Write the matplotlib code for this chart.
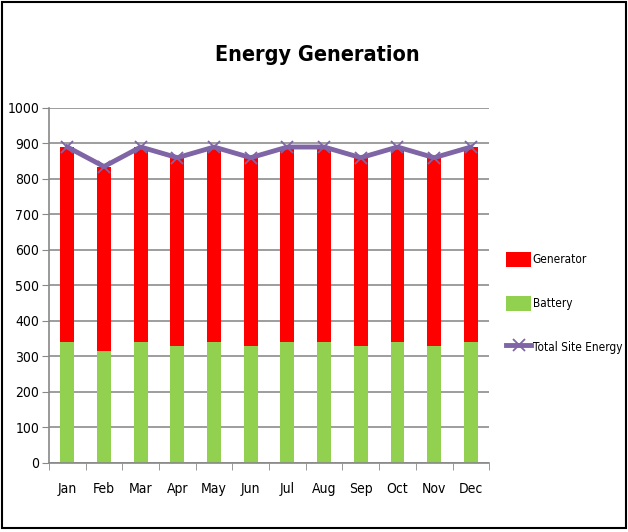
import matplotlib
matplotlib.use("Agg")
import matplotlib.pyplot as plt
import numpy as np
from matplotlib.patches import Rectangle

plt.rcParams['font.family'] = ['DejaVu Sans']
plt.rcParams['font.stretch'] = 'condensed'

months = ["Jan", "Feb", "Mar", "Apr", "May", "Jun",
          "Jul", "Aug", "Sep", "Oct", "Nov", "Dec"]
battery = [340, 315, 340, 330, 340, 330, 340, 340, 330, 340, 330, 340]
total_site = [890, 835, 890, 860, 890, 860, 890, 890, 860, 890, 860, 890]
generator = [t - b for t, b in zip(total_site, battery)]

fig = plt.figure(figsize=(6.28, 5.32), dpi=100)
ax = fig.add_axes([0.078, 0.13, 0.701, 0.667])

x = np.arange(len(months))
ax.bar(x, battery, width=0.38, color="#92D050", label="Battery", zorder=2)
ax.bar(x, generator, width=0.38, bottom=battery, color="#FF0000",
       label="Generator", zorder=2)
ax.plot(x, total_site, color="#7F64A6", lw=3.5, marker="x", ms=8,
        mew=1.3, label="Total Site Energy", zorder=3)

ax.set_xlim(-0.5, len(months) - 0.5)
ax.set_ylim(0, 1000)
ax.set_yticks(np.arange(0, 1001, 100))
ax.set_xticks(x)
ax.set_xticklabels(months)
ax.set_xticks(np.arange(-0.5, len(months)), minor=True)
ax.tick_params(axis="x", which="major", length=0, pad=14, labelsize=10)
ax.tick_params(axis="x", which="minor", length=5, color="#888888")
ax.tick_params(axis="y", length=5, color="#888888", labelsize=10, pad=2)
ax.yaxis.grid(True, color="#8C8C8C", lw=1.2, zorder=0)
ax.set_axisbelow(True)
for s in ["top", "right"]:
    ax.spines[s].set_visible(False)
for s in ["left", "bottom"]:
    ax.spines[s].set_color("#888888")
    ax.spines[s].set_linewidth(1.2)

handles, labels = ax.get_legend_handles_labels()
order = [labels.index("Generator"), labels.index("Battery"),
         labels.index("Total Site Energy")]
fig.legend([handles[i] for i in order], [labels[i] for i in order],
           loc="center left", bbox_to_anchor=(0.806, 0.43), frameon=False,
           borderpad=0, borderaxespad=0, fontsize=8.5, handlelength=2.1,
           handleheight=1.6, handletextpad=0.15, labelspacing=2.45)

fig.suptitle("Energy Generation", x=0.505, y=0.915, fontsize=15.5,
             fontweight="bold")

fig.patches.append(Rectangle((0.003, 0.008), 0.994, 0.988,
                             transform=fig.transFigure, fill=False,
                             ec="black", lw=1.5))

fig.savefig("out.png", dpi=100)
